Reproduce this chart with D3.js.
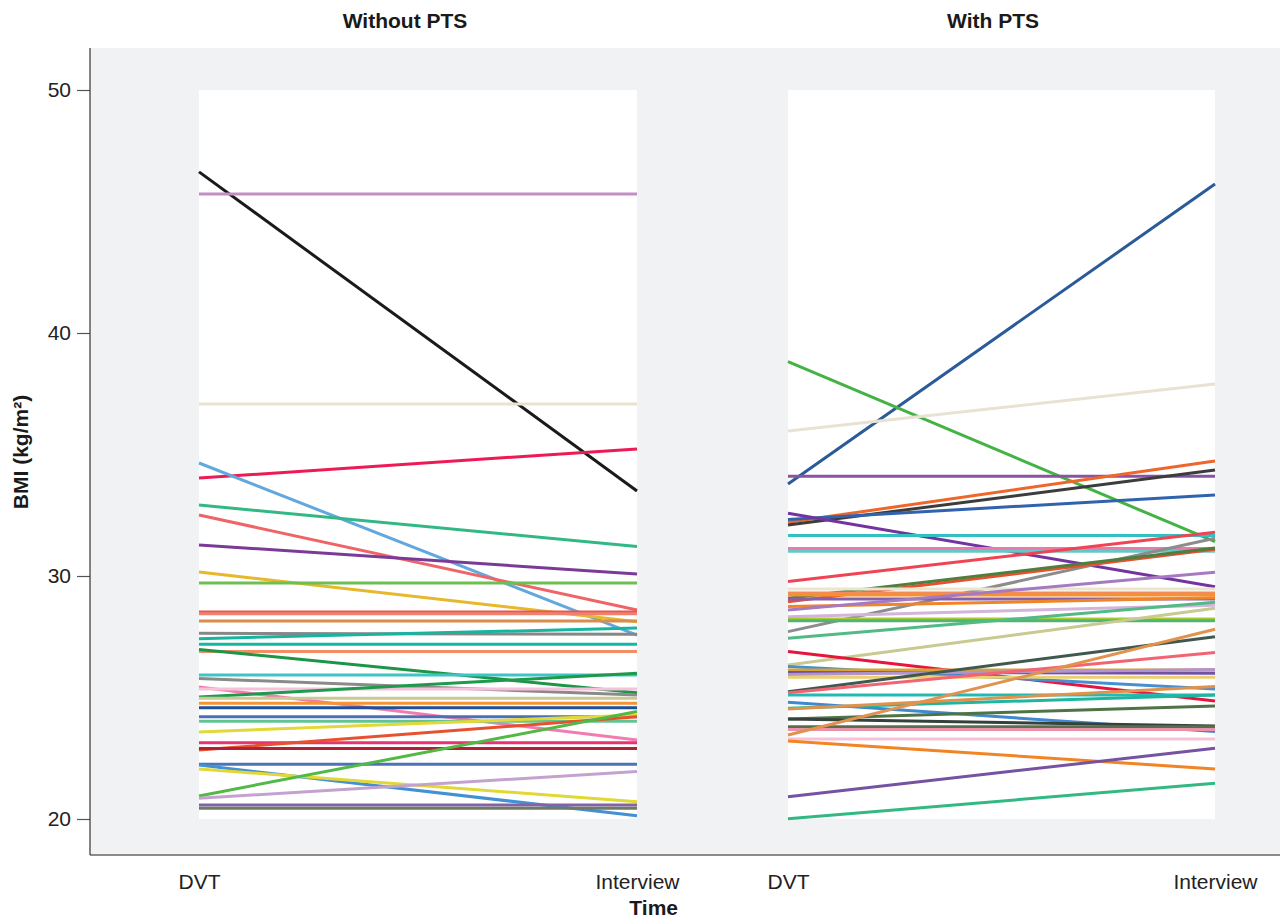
<!DOCTYPE html>
<html>
<head>
<meta charset="utf-8">
<script src="https://cdn.jsdelivr.net/npm/d3@7"></script>
<style>
  html, body { margin: 0; padding: 0; background: #ffffff; }
  svg { display: block; font-family: "Liberation Sans", Arial, sans-serif; }
</style>
</head>
<body>
<svg id="chart" width="1285" height="919"></svg>
<script>
// Time points on the x axis
const timePoints = ["DVT", "Interview"];
const yTicks = [20, 30, 40, 50];
const panelTitles = ["Without PTS", "With PTS"];

// BMI per patient without post-thrombotic syndrome: value at DVT and at interview
const withoutDVT = [46.63, 45.72, 37.08, 34.03, 34.65, 32.92, 32.51, 31.28, 30.16, 29.71,
  28.52, 28.45, 28.15, 27.64, 27.42, 27.19, 26.89, 26.98, 25.93, 25.78,
  25.43, 25.35, 25.02, 24.97, 24.76, 24.58, 24.21, 24.02, 23.58, 23.14,
  22.84, 22.90, 22.25, 22.22, 22.06, 20.95, 20.85, 20.58, 20.44];
const withoutInterview = [33.50, 45.72, 37.08, 35.23, 27.57, 31.21, 28.60, 30.08, 28.12, 29.71,
  28.52, 28.45, 28.15, 27.60, 27.86, 27.19, 26.89, 25.20, 25.93, 25.10,
  23.25, 25.35, 26.00, 24.97, 24.76, 24.58, 24.21, 24.02, 24.28, 23.14,
  24.21, 22.90, 22.25, 20.13, 20.71, 24.42, 21.95, 20.58, 20.44];
const withoutColors = ["#1a1a1a", "#c28ec4", "#e8e2cf", "#ee1a55", "#62a8de", "#32b884", "#f06468", "#7a3a98", "#e6b82a", "#6cbf50",
  "#e8574a", "#f08070", "#d98c4c", "#878787", "#16b5a0", "#12b8a2", "#f48c64", "#1c9548", "#3fc4c6", "#8a8a8a",
  "#f07cb0", "#f6c2da", "#1e9a4c", "#c9c994", "#f49432", "#1f4f98", "#4b70b6", "#62c492", "#e2d838", "#e83272",
  "#e65230", "#b02232", "#4d72b8", "#4390d2", "#e2d834", "#52b846", "#c4a2d0", "#8462a8", "#6e7a62"];

// BMI per patient with post-thrombotic syndrome
const withDVT = [33.79, 38.82, 35.97, 34.10, 32.21, 32.10, 32.33, 32.58, 31.67, 31.13,
  31.02, 29.77, 27.71, 28.94, 29.08, 29.46, 29.30, 29.22, 29.05, 28.74,
  28.60, 28.32, 28.23, 28.16, 27.44, 26.34, 26.89, 26.28, 26.13, 26.03,
  25.95, 25.83, 25.24, 25.20, 25.10, 24.80, 24.56, 24.53, 24.12, 24.12,
  23.80, 23.68, 23.46, 23.29, 23.21, 20.92, 20.01];
const withInterview = [46.13, 31.41, 37.90, 34.10, 34.73, 34.36, 33.33, 29.56, 31.67, 31.13,
  31.02, 31.80, 31.55, 31.10, 31.15, 29.46, 29.30, 29.22, 29.05, 29.10,
  30.15, 28.80, 28.23, 28.16, 28.92, 28.67, 24.86, 25.35, 26.13, 26.00,
  26.15, 25.83, 27.50, 26.85, 25.10, 23.60, 25.10, 25.45, 24.65, 23.83,
  23.80, 23.68, 27.81, 23.29, 22.06, 22.91, 21.47];
const withColors = ["#2a5a98", "#44b244", "#e8e2d2", "#8a52a2", "#f0662a", "#3c3c3c", "#3162ae", "#7434a0", "#32c0c2", "#ea7aaa",
  "#66c8c6", "#f04454", "#8c8c8c", "#e8502e", "#4f7e3e", "#ece4cc", "#f48a5c", "#f49232", "#8660aa", "#f08426",
  "#a67ac0", "#d4b4da", "#a8cc34", "#52b46e", "#52ba84", "#c8ca92", "#e8143e", "#4690d2", "#d6a234", "#7252a2",
  "#b294c8", "#ead070", "#40584e", "#f26474", "#22bab2", "#4088d0", "#1eb6a0", "#e0924a", "#4e7446", "#34423a",
  "#56704c", "#ea92aa", "#e0924e", "#f6c2d8", "#f28424", "#7652a2", "#32b882"];

const svg = d3.select("#chart");
const fontFamily = "'Liberation Sans', Arial, sans-serif";

// Shared vertical scale
const y = d3.scaleLinear().domain([20, 50]).range([819, 90]);

// Frame: grey plotting background and axis lines
const frame = { left: 90, right: 1280, top: 48, bottom: 855 };
svg.append("rect")
  .attr("x", frame.left).attr("y", frame.top)
  .attr("width", frame.right - frame.left).attr("height", frame.bottom - frame.top)
  .attr("fill", "#f1f2f4");

const panels = [
  { title: panelTitles[0], range: [199, 637], titleX: 405, dvt: withoutDVT, iv: withoutInterview, colors: withoutColors },
  { title: panelTitles[1], range: [788, 1215], titleX: 993, dvt: withDVT, iv: withInterview, colors: withColors }
];

panels.forEach(p => {
  const x = d3.scalePoint().domain(timePoints).range(p.range);
  const g = svg.append("g");

  // White data area spanning both time points
  g.append("rect")
    .attr("x", x("DVT")).attr("y", y(50))
    .attr("width", x("Interview") - x("DVT")).attr("height", y(20) - y(50))
    .attr("fill", "#ffffff");

  // One line per patient
  const line = d3.line().x(d => x(d.t)).y(d => y(d.v));
  const rows = p.dvt.map((v, i) => ({
    pts: [{ t: "DVT", v: v }, { t: "Interview", v: p.iv[i] }],
    color: p.colors[i]
  }));
  g.selectAll("path.subject")
    .data(rows)
    .join("path")
    .attr("class", "subject")
    .attr("d", d => line(d.pts))
    .attr("fill", "none")
    .attr("stroke", d => d.color)
    .attr("stroke-width", 3);

  // Panel title
  svg.append("text")
    .attr("x", p.titleX)
    .attr("y", 28)
    .attr("text-anchor", "middle")
    .attr("font-size", 21)
    .attr("font-weight", "bold")
    .attr("fill", "#1a1a1a")
    .text(p.title);

  // Time labels under the panel
  const xAxis = svg.append("g")
    .attr("transform", `translate(0,${frame.bottom})`)
    .call(d3.axisBottom(x).tickSize(0).tickPadding(19));
  xAxis.select(".domain").remove();
  xAxis.selectAll("text")
    .attr("font-size", 21)
    .attr("font-family", fontFamily)
    .attr("fill", "#222");
});

// Bottom axis line
svg.append("line")
  .attr("x1", frame.left).attr("x2", frame.right)
  .attr("y1", frame.bottom).attr("y2", frame.bottom)
  .attr("stroke", "#8a8a8a").attr("stroke-width", 2);

// Left axis
const yAxis = svg.append("g")
  .attr("transform", `translate(${frame.left},0)`)
  .call(d3.axisLeft(y).tickValues(yTicks).tickSize(13).tickPadding(6));
yAxis.select(".domain").remove();
yAxis.selectAll(".tick line").attr("stroke", "#555").attr("stroke-width", 1.2);
yAxis.selectAll("text")
  .attr("font-size", 21)
  .attr("font-family", fontFamily)
  .attr("fill", "#222");
svg.append("line")
  .attr("x1", frame.left).attr("x2", frame.left)
  .attr("y1", frame.top).attr("y2", frame.bottom)
  .attr("stroke", "#333").attr("stroke-width", 1.2);

// Axis titles
svg.append("text")
  .attr("x", 678).attr("y", 915)
  .attr("text-anchor", "end")
  .attr("font-size", 21)
  .attr("font-weight", "bold")
  .attr("fill", "#1a1a1a")
  .text("Time");

svg.append("text")
  .attr("transform", "translate(28,452) rotate(-90)")
  .attr("text-anchor", "middle")
  .attr("font-size", 21)
  .attr("font-weight", "bold")
  .attr("fill", "#1a1a1a")
  .text("BMI (kg/m²)");
</script>
</body>
</html>
